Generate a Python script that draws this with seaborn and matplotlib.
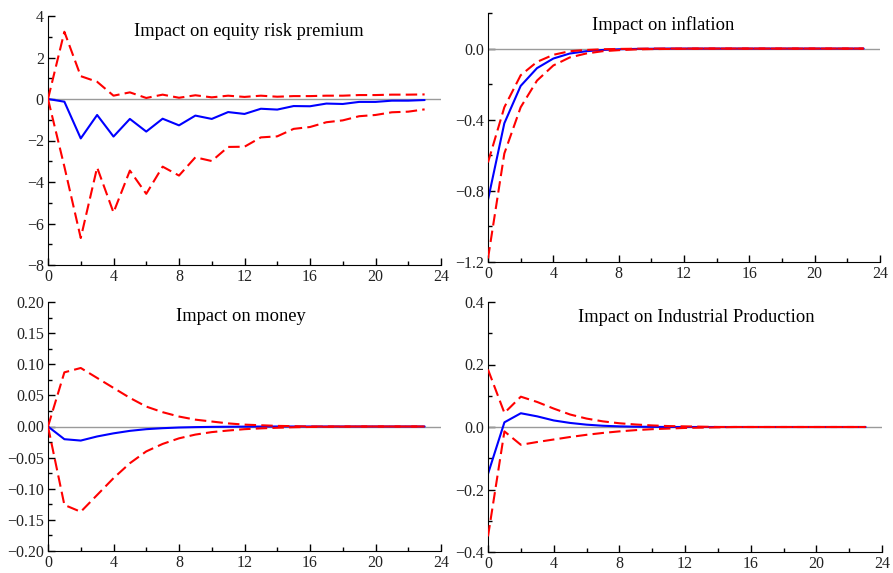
import numpy as np
import pandas as pd
import seaborn as sns
import matplotlib.pyplot as plt
from matplotlib.ticker import MultipleLocator, FuncFormatter

horizon = list(range(24))

# equity risk premium
erp_mid = [0, -0.13, -1.9, -0.77, -1.81, -0.96, -1.57, -0.95, -1.27, -0.8, -0.96, -0.63,
           -0.72, -0.47, -0.51, -0.34, -0.35, -0.22, -0.24, -0.14, -0.14, -0.08, -0.08, -0.05]
erp_up = [0, 3.24, 1.1, 0.83, 0.16, 0.32, 0.05, 0.21, 0.06, 0.18, 0.08, 0.16,
          0.1, 0.16, 0.11, 0.14, 0.14, 0.16, 0.16, 0.19, 0.19, 0.21, 0.21, 0.22]
erp_lo = [0, -3.26, -6.7, -3.3, -5.47, -3.45, -4.57, -3.26, -3.69, -2.81, -2.99, -2.31,
          -2.3, -1.85, -1.8, -1.44, -1.35, -1.12, -1.03, -0.83, -0.77, -0.64, -0.61, -0.5]

# inflation
inf_mid = [-0.85, -0.42, -0.21, -0.11, -0.056, -0.028, -0.015, -0.008, -0.004, -0.002, -0.001, 0,
           0, 0, 0, 0, 0, 0, 0, 0, 0, 0, 0, 0]
inf_up = [-0.64, -0.33, -0.15, -0.075, -0.035, -0.015, -0.008, -0.004, -0.002, -0.001, 0, 0,
          0, 0, 0, 0, 0, 0, 0, 0, 0, 0, 0, 0]
inf_lo = [-1.18, -0.59, -0.33, -0.18, -0.095, -0.05, -0.028, -0.015, -0.009, -0.005, -0.003, -0.002,
          -0.001, 0, 0, 0, 0, 0, 0, 0, 0, 0, 0, 0]

# money
mon_mid = [0, -0.0204, -0.0226, -0.016, -0.011, -0.007, -0.0043, -0.0027, -0.0016, -0.001, -0.0006, -0.0004,
           -0.0002, -0.0001, 0, 0, 0, 0, 0, 0, 0, 0, 0, 0]
mon_up = [0, 0.087, 0.094, 0.078, 0.062, 0.046, 0.032, 0.023, 0.016, 0.011, 0.008, 0.005,
          0.003, 0.002, 0.001, 0.0005, 0, 0, 0, 0, 0, 0, 0, 0]
mon_lo = [0, -0.126, -0.137, -0.11, -0.083, -0.059, -0.04, -0.028, -0.019, -0.013, -0.009, -0.0065,
          -0.0043, -0.003, -0.002, -0.0012, -0.0007, -0.0004, -0.0002, 0, 0, 0, 0, 0]

# industrial production
ip_mid = [-0.15, 0.015, 0.044, 0.034, 0.021, 0.013, 0.0075, 0.004, 0.002, 0.001, 0.0005, 0,
          0, 0, 0, 0, 0, 0, 0, 0, 0, 0, 0, 0]
ip_up = [0.184, 0.045, 0.097, 0.08, 0.059, 0.04, 0.027, 0.018, 0.012, 0.008, 0.005, 0.003,
         0.002, 0.001, 0, 0, 0, 0, 0, 0, 0, 0, 0, 0]
ip_lo = [-0.35, -0.014, -0.057, -0.048, -0.04, -0.032, -0.025, -0.019, -0.014, -0.01, -0.007, -0.005,
         -0.003, -0.002, -0.001, 0, 0, 0, 0, 0, 0, 0, 0, 0]

titles = ["Impact on equity risk premium", "Impact on inflation",
          "Impact on money", "Impact on Industrial Production"]

sns.set_style("ticks")
plt.rcParams["font.family"] = ["Liberation Serif", "DejaVu Serif"]
plt.rcParams["xtick.direction"] = "in"
plt.rcParams["ytick.direction"] = "in"
plt.rcParams["axes.edgecolor"] = "black"
plt.rcParams["xtick.color"] = "black"
plt.rcParams["ytick.color"] = "black"
plt.rcParams["text.color"] = "black"
plt.rcParams["xtick.labelcolor"] = "#222222"
plt.rcParams["ytick.labelcolor"] = "#222222"

fig = plt.figure(figsize=(8.93, 5.73), dpi=100)
W, H = 893, 573


def add_ax(left, right, top, bottom):
    return fig.add_axes([left / W, 1 - bottom / H, (right - left) / W, (bottom - top) / H])


def minus_fmt(decimals):
    def f(v, pos):
        s = f"{v:.{decimals}f}"
        if float(s) == 0:
            s = s.lstrip("-")
        return s.replace("-", "\u2212")
    return FuncFormatter(f)


axes = [add_ax(48, 441, 16, 265), add_ax(488, 880, 13, 262),
        add_ax(48, 441, 302, 551), add_ax(488, 882, 302, 552)]

panels = [
    (erp_mid, erp_up, erp_lo, (-8, 4), 2, 1, 0, (0.511, 0.936)),
    (inf_mid, inf_up, inf_lo, (-1.2, 0.2), 0.4, 0.2, 1, (0.446, 0.952)),
    (mon_mid, mon_up, mon_lo, (-0.2, 0.2), 0.05, 0.025, 2, (0.491, 0.94)),
    (ip_mid, ip_up, ip_lo, (-0.4, 0.4), 0.2, 0.1, 1, (0.528, 0.936)),
]

for ax, title, (mid, up, lo, ylim, major, minor, dec, tpos) in zip(axes, titles, panels):
    ax.axhline(0, color="#9a9a9a", lw=1.0, zorder=1)
    df = pd.DataFrame({"h": horizon, "mid": mid, "up": up, "lo": lo})
    sns.lineplot(data=df, x="h", y="up", ax=ax, color="#ff0000", lw=1.5,
                 linestyle=(0, (5.5, 2.5)), zorder=3)
    sns.lineplot(data=df, x="h", y="lo", ax=ax, color="#ff0000", lw=1.5,
                 linestyle=(0, (5.5, 2.5)), zorder=3)
    sns.lineplot(data=df, x="h", y="mid", ax=ax, color="#0000ff", lw=1.5, zorder=2)
    ax.set_xlim(0, 24)
    ax.set_ylim(*ylim)
    ax.xaxis.set_major_locator(MultipleLocator(4))
    ax.xaxis.set_minor_locator(MultipleLocator(2))
    ax.yaxis.set_major_locator(MultipleLocator(major))
    ax.yaxis.set_minor_locator(MultipleLocator(minor))
    ax.yaxis.set_major_formatter(minus_fmt(dec))
    ax.tick_params(which="major", length=5, width=1, labelsize=11.5, pad=3)
    ax.tick_params(which="minor", length=3, width=1)
    ax.set_xlabel("")
    ax.set_ylabel("")
    sns.despine(ax=ax)
    ax.text(tpos[0], tpos[1], title, transform=ax.transAxes, ha="center", va="center",
            fontsize=13.3)

# inflation panel shows labels only down to 0.0
axes[1].set_yticks([-1.2, -0.8, -0.4, 0.0])

fig.savefig("out.png", dpi=100)
